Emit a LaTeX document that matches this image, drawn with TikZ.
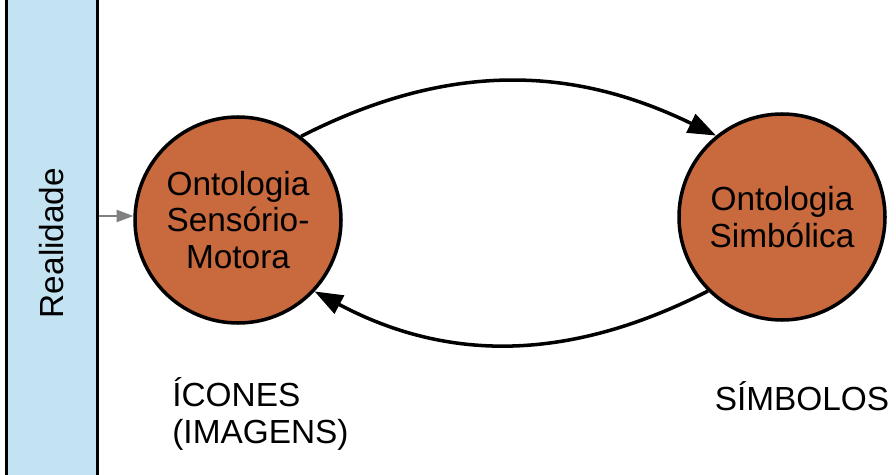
\documentclass[tikz,border=0pt]{standalone}
\usepackage{fontspec}
\setmainfont{Liberation Sans}
\usepackage{xcolor}
\usetikzlibrary{shapes.geometric, arrows}
\usetikzlibrary{arrows.meta}
\definecolor{ontofill}{HTML}{C8693E}
\definecolor{realfill}{HTML}{C3E3F2}
\tikzstyle{ontology} = [circle, minimum size=206*0.02cm, inner sep=0pt, align=center, draw=black, line width=2pt, fill=ontofill]
\tikzstyle{reality} = [rectangle, minimum width=520*0.02cm, minimum height=91*0.02cm, draw=black, line width=2pt, fill=realfill, rotate=90]
\tikzstyle{arrow} = [line width=2pt,-{Triangle[length=16pt,width=11.5pt]}]
\tikzstyle{feed} = [line width=0.8pt, gray, -{Triangle[length=9.5pt,width=7pt]}]
\tikzstyle{caption} = [inner sep=0pt, align=left]

\begin{document}
\begin{tikzpicture}[x=0.02cm, y=0.02cm, every node/.style={font=\fontsize{19}{21}\selectfont}]
                    \useasboundingbox (0,0) rectangle (896,474);
                    \node (real) [reality] at (52, 231) {Realidade};
                    \node (sm) [ontology] at (238, 254) {Ontologia\\Sensório-\\Motora};
                    \node (sym) [ontology] at (782, 257) {Ontologia\\Simbólica};

                    \node (icons) [caption, anchor=west] at (172, 60) {ÍCONES\\(IMAGENS)};
                    \node (symbols) [caption] at (802, 78) {SÍMBOLOS};

                    \draw[feed] (real.south |- 0,258) -- (sm.west |- 0,258);
                    \draw[arrow] (sm.53) to[out=27, in=154] (sym.129);
                    \draw[arrow] (sym.225) to[out=207, in=-28] (sm.-43);
                \end{tikzpicture}
\end{document}
